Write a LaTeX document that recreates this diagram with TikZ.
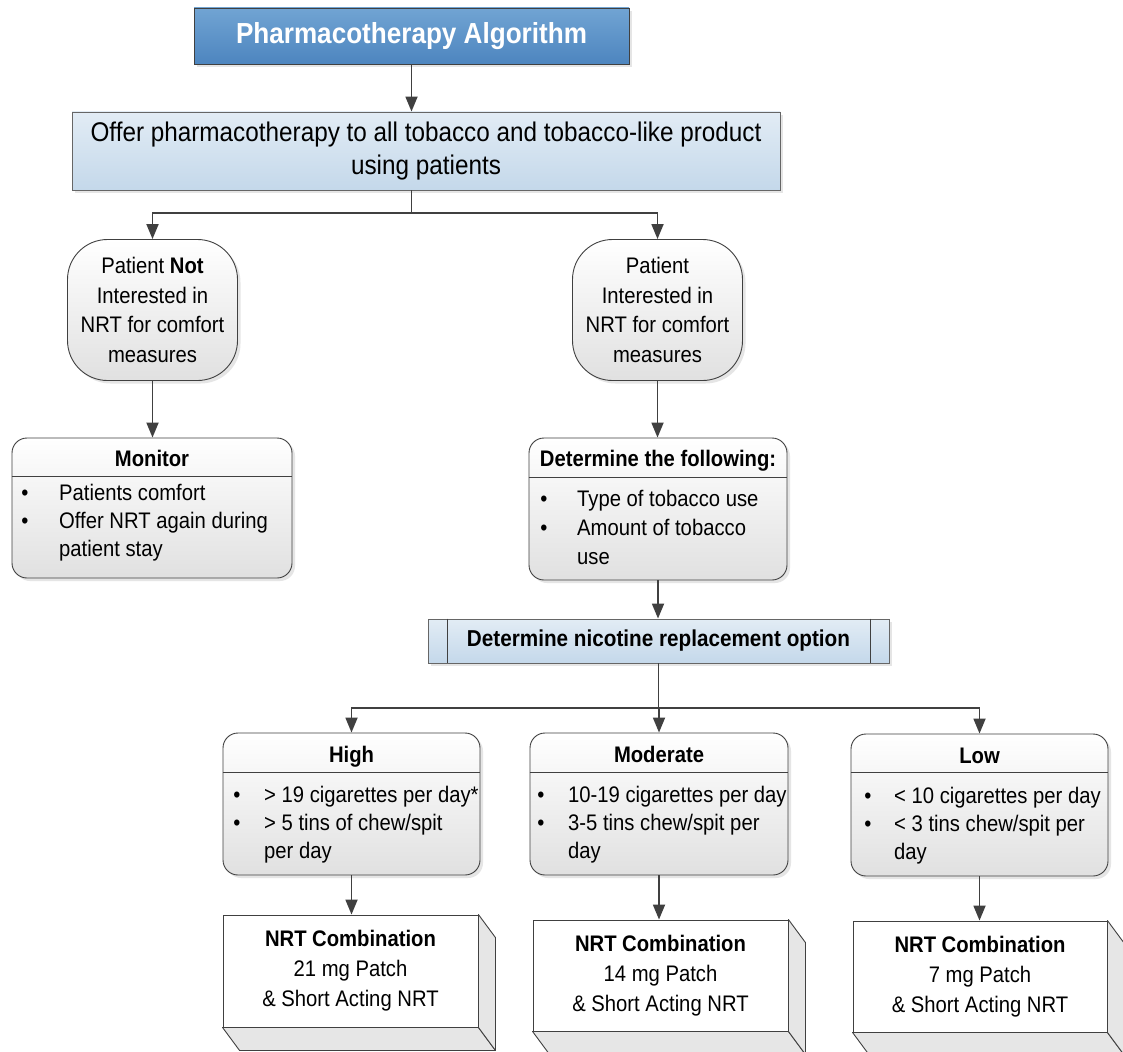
\documentclass[tikz,border=0pt]{standalone}
\usepackage{fontspec}
\setmainfont{Liberation Sans}[FakeStretch=0.9]
\usetikzlibrary{arrows.meta,calc,shadows}
\definecolor{lnc}{HTML}{404040}
\definecolor{ttop}{HTML}{71A4D3}
\definecolor{tbot}{HTML}{4D85BF}
\definecolor{btop}{HTML}{E2ECF5}
\definecolor{bbot}{HTML}{C4D8EA}
\definecolor{facec}{HTML}{E6E6E6}
\newcommand{\fsz}[2]{\fontsize{#1}{#2}\selectfont}
\newcommand{\boxdepth}[1]{%
  \draw[facest] (#1.south west) -- (#1.south east) -- ($(#1.south east)+(17,23)$) -- ($(#1.south west)+(17,23)$) -- cycle;
  \draw[facest] (#1.north east) -- ($(#1.north east)+(17,23)$) -- ($(#1.south east)+(17,23)$) -- (#1.south east) -- cycle;}
\begin{document}
\begin{tikzpicture}[x=1pt,y=-1pt,
  conn/.style={draw=lnc,line width=1.8pt},
  arr/.style={conn,-{Triangle[length=15pt,width=12pt]}},
  shd/.style={drop shadow={shadow xshift=3pt,shadow yshift=-3pt,fill=black!20}},
  titlebox/.style={draw=lnc,line width=0.9pt,top color=ttop,bottom color=tbot,shd,
    minimum width=435pt,minimum height=56pt,inner sep=0pt,text=white,font=\fsz{29}{34}\bfseries},
  bluebox/.style={draw=black!60,line width=0.9pt,top color=btop,bottom color=bbot,shd,
    inner sep=0pt,align=center},
  rnode/.style={draw=lnc,line width=0.9pt,rounded corners=40pt,top color=white,bottom color=black!12,shd,
    minimum width=170pt,minimum height=141pt,inner sep=0pt,align=center,font=\fsz{22.5}{29.5}},
  lbox/.style={draw=lnc,line width=0.9pt,rounded corners=15pt,top color=white,bottom color=black!12,shd,
    inner sep=0pt},
  nrt/.style={draw=lnc,line width=0.9pt,fill=white,inner sep=0pt,align=center,font=\fsz{22.5}{30}},
  facest/.style={draw=lnc,line width=0.9pt,fill=facec,line join=round},
  sepl/.style={draw=lnc,line width=0.9pt},
  hd/.style={font=\fsz{22.5}{28}\bfseries,inner sep=0pt,text height=16pt,text depth=0pt},
  lt/.style={font=\fsz{22.5}{28},inner sep=0pt,text height=16pt,text depth=0pt,anchor=west},
  bu/.style={font=\fsz{22.5}{28},inner sep=0pt,text height=16pt,text depth=0pt},
]
\clip (0,0) rectangle (1123,1051);
\fill[white] (0,0) rectangle (1123,1051);

% title and first box
\node[titlebox] (title) at (411.5,36) {Pharmacotherapy Algorithm};
\node[bluebox,minimum width=708pt,minimum height=78pt,font=\fsz{27}{33}] (box2) at (426,151)
  {Offer pharmacotherapy to all tobacco and tobacco-like product\\using patients};

% decision nodes
\node[rnode] (nl) at (152.5,310) {Patient \textbf{Not}\\Interested in\\NRT for comfort\\measures};
\node[rnode] (nr) at (657.5,310) {Patient\\Interested in\\NRT for comfort\\measures};

% monitor box
\node[lbox,minimum width=280pt,minimum height=140pt] (mon) at (152,508) {};
\draw[sepl] ($(mon.north west)+(0,39)$) -- ($(mon.north east)+(0,39)$);
\node[hd] (monh) at (152,458) {Monitor};
\node[bu] (monb1) at (25,492) {•};
\node[bu] (monb2) at (25,520) {•};
\node[lt] (mon1) at (59,492) {Patients comfort};
\node[lt] (mon2) at (59,520) {Offer NRT again during};
\node[lt] (mon3) at (59,548) {patient stay};

% determine box
\node[lbox,minimum width=258pt,minimum height=142pt] (det) at (658,509) {};
\draw[sepl] ($(det.north west)+(0,40)$) -- ($(det.north east)+(0,40)$);
\node[hd] (deth) at (658,458) {Determine the following:};
\node[bu] (detb1) at (544,498) {•};
\node[bu] (detb2) at (544,527) {•};
\node[lt] (det1) at (577,498) {Type of tobacco use};
\node[lt] (det2) at (577,527) {Amount of tobacco};
\node[lt] (det3) at (577,556) {use};

% process box
\node[bluebox,minimum width=461pt,minimum height=44pt,font=\fsz{23}{28}\bfseries] (proc) at (658.5,641)
  {Determine nicotine replacement option};
\draw[sepl] ($(proc.north west)+(20,0)$) -- ($(proc.south west)+(20,0)$);
\draw[sepl] ($(proc.north east)+(-19,0)$) -- ($(proc.south east)+(-19,0)$);

% level boxes
\node[lbox,minimum width=257pt,minimum height=142pt] (hi) at (351.5,804) {};
\draw[sepl] ($(hi.north west)+(0,40)$) -- ($(hi.north east)+(0,40)$);
\node[hd] (hih) at (351.5,754) {High};
\node[bu] (hib1) at (237,794) {•};
\node[bu] (hib2) at (237,822) {•};
\node[lt] (hi1) at (264,794) {> 19 cigarettes per day*};
\node[lt] (hi2) at (264,822) {> 5 tins of chew/spit};
\node[lt] (hi3) at (264,850) {per day};

\node[lbox,minimum width=258pt,minimum height=142pt] (mo) at (659,804) {};
\draw[sepl] ($(mo.north west)+(0,40)$) -- ($(mo.north east)+(0,40)$);
\node[hd] (moh) at (659,754) {Moderate};
\node[bu] (mob1) at (541,794) {•};
\node[bu] (mob2) at (541,822) {•};
\node[lt] (mo1) at (568,794) {10-19 cigarettes per day};
\node[lt] (mo2) at (568,822) {3-5 tins chew/spit per};
\node[lt] (mo3) at (568,850) {day};

\node[lbox,minimum width=257pt,minimum height=142pt] (lo) at (979.5,805) {};
\draw[sepl] ($(lo.north west)+(0,39)$) -- ($(lo.north east)+(0,39)$);
\node[hd] (loh) at (979.5,755) {Low};
\node[bu] (lob1) at (868,795) {•};
\node[bu] (lob2) at (868,823) {•};
\node[lt] (lo1) at (894,795) {< 10 cigarettes per day};
\node[lt] (lo2) at (894,823) {< 3 tins chew/spit per};
\node[lt] (lo3) at (894,851) {day};

% NRT boxes
\node[nrt,minimum width=255pt,minimum height=112pt] (n1) at (350.5,971)
  {\textbf{NRT Combination}\\21 mg Patch\\\& Short Acting NRT};
\boxdepth{n1}
\node[nrt,minimum width=255pt,minimum height=111pt] (n2) at (660.5,975.5)
  {\textbf{NRT Combination}\\14 mg Patch\\\& Short Acting NRT};
\boxdepth{n2}
\node[nrt,minimum width=254pt,minimum height=111pt] (n3) at (980,976.5)
  {\textbf{NRT Combination}\\7 mg Patch\\\& Short Acting NRT};
\boxdepth{n3}

% connectors
\coordinate (j1) at (411.5,213);
\coordinate (j2) at (658.5,708);
\draw[arr] (title.south) -- (title.south |- box2.north);
\draw[conn] (title.south |- box2.south) -- (j1);
\draw[arr] (j1) -| (nl.north);
\draw[arr] (j1) -| (nr.north);
\draw[arr] (nl.south) -- (nl.south |- mon.north);
\draw[arr] (nr.south) -- (nr.south |- det.north);
\draw[arr] (det.south) -- (det.south |- proc.north);
\draw[conn] (proc.south) -- (j2);
\draw[arr] (j2) -| (hi.north);
\draw[arr] (j2) -| (mo.north);
\draw[arr] (j2) -| (lo.north);
\draw[arr] (hi.south) -- (hi.south |- n1.north);
\draw[arr] (mo.south) -- (mo.south |- n2.north);
\draw[arr] (lo.south) -- (lo.south |- n3.north);
\end{tikzpicture}
\end{document}
